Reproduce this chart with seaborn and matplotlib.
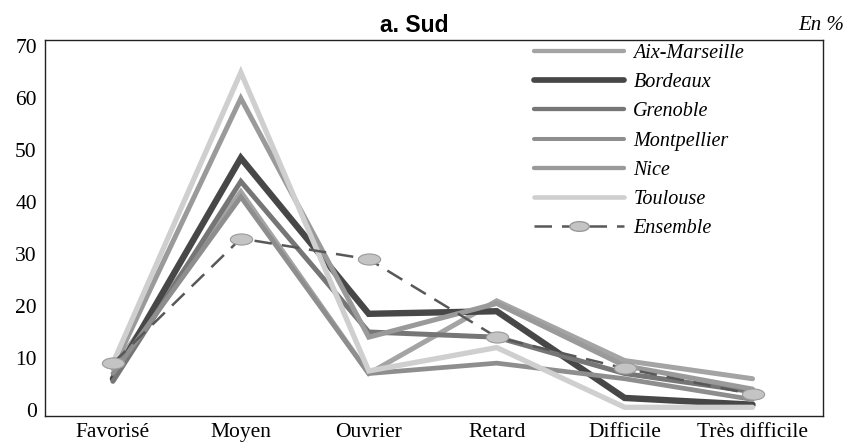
import numpy as np
import pandas as pd
import matplotlib
matplotlib.use("Agg")
import matplotlib.pyplot as plt
from matplotlib.path import Path
from matplotlib.lines import Line2D
import seaborn as sns

categories = ["Favorisé", "Moyen", "Ouvrier", "Retard", "Difficile", "Très difficile"]
regions = ["Aix-Marseille", "Bordeaux", "Grenoble", "Montpellier", "Nice", "Toulouse"]
aix = [8, 42, 7, 21, 9.5, 6]
bordeaux = [6, 48.5, 18.5, 19, 2.3, 1]
grenoble = [5.5, 44, 15, 14, 7, 3.5]
montpellier = [7, 41, 7, 9, 6, 2]
nice = [8, 60, 14, 20.5, 8.5, 4]
toulouse = [9, 65, 7.5, 12, 0.5, 0.5]
ensemble = [9, 33, 29, 14, 8, 3]

colors = {"Aix-Marseille": "#a4a4a4", "Bordeaux": "#474747", "Grenoble": "#767676",
          "Montpellier": "#8e8e8e", "Nice": "#9a9a9a", "Toulouse": "#cfcfcf"}
widths = {"Aix-Marseille": 3.6, "Bordeaux": 4.6, "Grenoble": 3.6,
          "Montpellier": 3.4, "Nice": 3.6, "Toulouse": 3.8}

df = pd.DataFrame({"cat": categories * 6,
                   "x": list(range(6)) * 6,
                   "region": np.repeat(regions, 6),
                   "val": aix + bordeaux + grenoble + montpellier + nice + toulouse})

sns.set_theme(style="white")
plt.rcParams["font.family"] = ["Liberation Serif", "DejaVu Serif"]
plt.rcParams.update({"text.color": "black", "xtick.color": "black",
                     "ytick.color": "black"})

fig = plt.figure(figsize=(8.51, 4.46), dpi=100)
ax = fig.add_axes([0.053, 0.067, 0.914, 0.843])

for r in regions:
    sns.lineplot(data=df[df["region"] == r], x="x", y="val", color=colors[r],
                 lw=widths[r], ax=ax, legend=False, solid_capstyle="round",
                 solid_joinstyle="miter")

# ellipse-shaped marker for "Ensemble"
circ = Path.unit_circle()
ell = Path(circ.vertices * np.array([1.0, 0.5]), circ.codes)
sns.lineplot(x=list(range(6)), y=ensemble, ax=ax, color="#585858", lw=1.8,
             dashes=False, legend=False)
ax.lines[-1].set_dashes([7, 4])
ax.plot(range(6), ensemble, ls="none", marker=ell, ms=16, mfc="#c4c4c4",
        mec="#9a9a9a", mew=0.8, zorder=5)

ax.set_xlim(-0.53, 5.55)
ax.set_ylim(-1.2, 71.2)
ax.set_xticks(range(6))
ax.set_xticklabels(categories, fontsize=15.5)
ax.set_yticks(range(0, 71, 10))
ax.tick_params(axis="y", labelsize=15.5, length=0, pad=6)
ax.tick_params(axis="x", length=0, pad=5)
ax.set_xlabel(""); ax.set_ylabel("")
for s in ax.spines.values():
    s.set_color("#222222"); s.set_linewidth(1.0)

handles = [Line2D([], [], color=colors[r], lw=widths[r] - 0.5) for r in regions]
handles.append(Line2D([], [], color="#585858", lw=1.8, ls=(0, (7, 4)), marker=ell,
                      ms=14, mfc="#c4c4c4", mec="#9a9a9a"))
ax.legend(handles, regions + ["Ensemble"], loc="upper right",
          bbox_to_anchor=(0.922, 1.038), frameon=False, handlelength=4.5,
          labelspacing=0.5, handletextpad=0.45,
          prop={"family": "Liberation Serif", "style": "italic", "size": 14.5})

fig.text(0.487, 0.943, "a. Sud", ha="center", va="center", fontsize=16.5,
         fontweight="bold", family="Liberation Sans")
fig.text(0.992, 0.943, "En %", ha="right", va="center", fontsize=15, style="italic",
         family="Liberation Serif")

plt.savefig("out.png", dpi=100)
